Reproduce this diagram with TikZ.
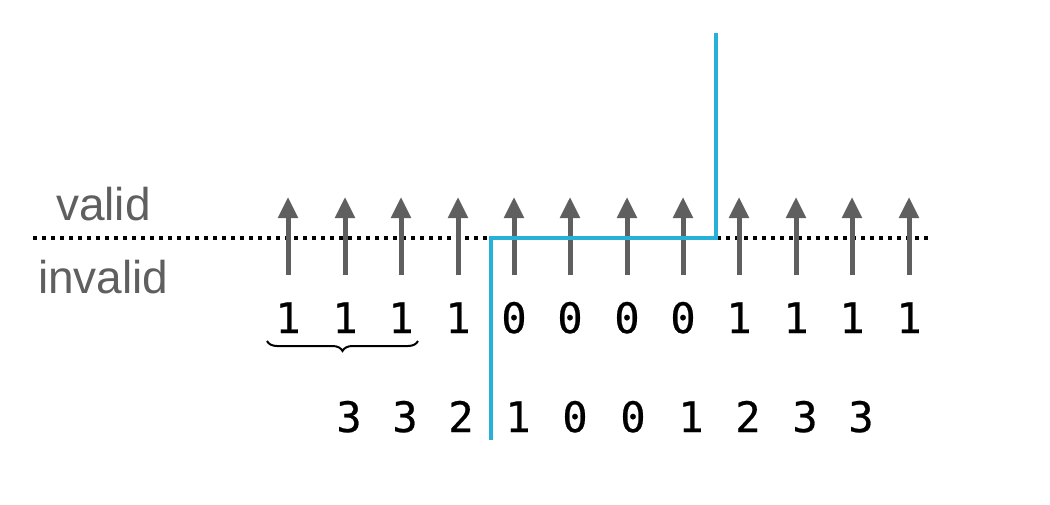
\documentclass[tikz,border=0pt]{standalone}
\usepackage{fontspec}
\setmainfont{Liberation Sans}
\newfontfamily\monofont[FakeBold=0.6]{DejaVu Sans Mono}
\usetikzlibrary{arrows.meta,decorations.pathreplacing}
\definecolor{arrgray}{HTML}{5F5F5F}
\definecolor{cutblue}{HTML}{27B0D8}
\tikzset{
  uparrow/.style={draw=arrgray,line width=5pt,-{Triangle[width=19pt,length=21pt]}},
  digit/.style={font=\monofont\fontsize{42}{42}\selectfont,anchor=base,inner sep=0pt},
  lbl/.style={font=\fontsize{46}{46}\selectfont,text=arrgray,anchor=base west,inner sep=0pt},
  dotline/.style={draw=black,line width=4pt,dash pattern=on 4pt off 5pt},
  cutline/.style={draw=cutblue,line width=4pt},
  bracestyle/.style={draw=black,line width=2pt,decorate,decoration={brace,mirror,amplitude=10pt}}
}
\begin{document}
\begin{tikzpicture}[x=1pt,y=-1pt]
\useasboundingbox (0,0) rectangle (1050,504);
% labels
\node[lbl] (valid) at (56,220) {valid};
\node[lbl] (invalid) at (38,293) {invalid};
% dotted line
\coordinate (dl) at (33,238);
\coordinate (dr) at (930,238);
\draw[dotline] (dl) -- (dr);
% arrows and row 1 digits
\foreach \i/\x/\d in {1/288/1,2/345/1,3/401/1,4/458/1,5/514/0,6/570/0,7/627/0,8/683/0,9/739/1,10/796/1,11/852/1,12/909/1}{
  \coordinate (b\i) at (\x,275);
  \coordinate (t\i) at (\x,197);
  \draw[uparrow] (b\i) -- (t\i);
  \node[digit] (d\i) at (\x,333) {\d};
}
% row 2 digits
\foreach \i/\x/\d in {1/349/3,2/405/3,3/461/2,4/518/1,5/575/0,6/633/0,7/691/1,8/748/2,9/805/3,10/861/3}{
  \node[digit] (r\i) at (\x,432) {\d};
}
% brace
\coordinate (bl) at (267,341);
\coordinate (br) at (418,341);
\draw[bracestyle] (bl) -- (br);
% blue cut line
\coordinate (c0) at (491,440);
\coordinate (c1) at (491,238);
\coordinate (c2) at (716,238);
\coordinate (c3) at (716,33);
\draw[cutline] (c0) -- (c1) -- (c2) -- (c3);
\end{tikzpicture}
\end{document}
